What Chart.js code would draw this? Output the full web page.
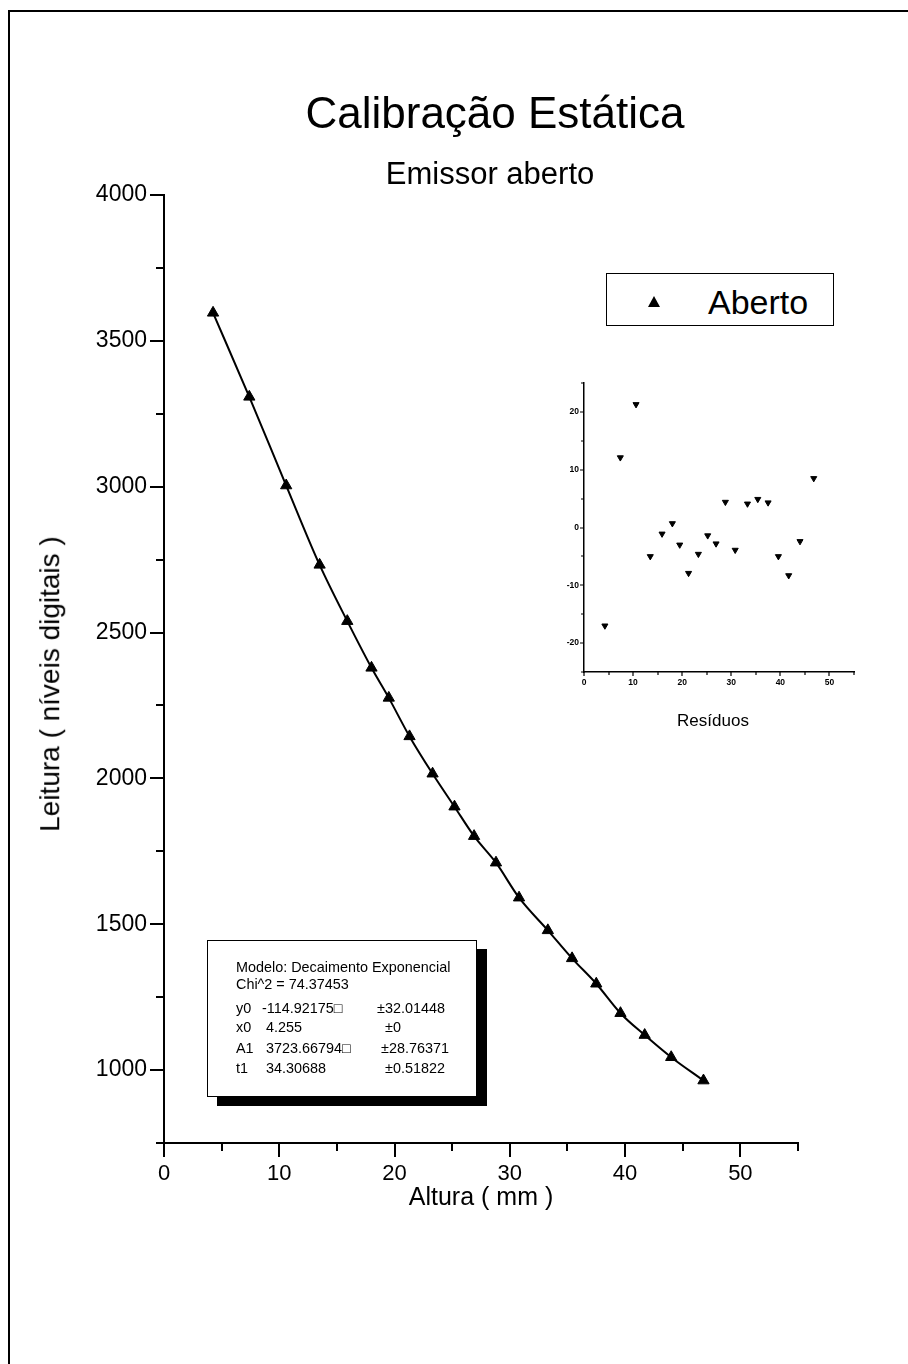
<!DOCTYPE html>
<html>
<head>
<meta charset="utf-8">
<script src="https://cdn.jsdelivr.net/npm/chart.js@4"></script>
<style>
  html, body { margin: 0; padding: 0; background: #fff; }
  body { width: 908px; height: 1364px; position: relative; overflow: hidden;
         font-family: "Liberation Sans", Arial, sans-serif; color: #000; }
  .abs { position: absolute; white-space: pre; line-height: 1; }
  #frame { position: absolute; left: 8px; top: 10px; right: -4px; bottom: -4px;
           border-top: 2px solid #000; border-left: 2px solid #000; }
  #main { position: absolute; left: 0; top: 0; }
  #inset { position: absolute; left: 530px; top: 360px; }
  #legend { position: absolute; left: 606px; top: 273px; width: 226px; height: 51px;
            border: 1.5px solid #000; background: #fff; }
  #legend .tri { position: absolute; left: 41px; top: 22px; width: 0; height: 0;
                 border-left: 6px solid transparent; border-right: 6px solid transparent;
                 border-bottom: 11px solid #000; }
  #fitbox { position: absolute; left: 207px; top: 940px; width: 268px; height: 155px;
            border: 1.5px solid #000; background: #fff; box-shadow: 10px 9px 0 #000; }
  #ytitle { left: 50px; top: 684px; font-size: 28px; line-height: 1.2;
            transform: translate(-50%, -50%) rotate(-90deg); }
</style>
</head>
<body>
<div id="frame"></div>
<canvas id="main" width="908" height="1364"></canvas>
<canvas id="inset" width="340" height="340"></canvas>

<div class="abs" style="left:495px; top:91px; font-size:44px; transform:translateX(-50%);">Calibração Estática</div>
<div class="abs" style="left:490px; top:158px; font-size:31px; transform:translateX(-50%);">Emissor aberto</div>
<div class="abs" id="ytitle">Leitura ( níveis digitais )</div>

<div id="legend"><div class="tri"></div><div class="abs" style="left:101px; top:11px; font-size:34px;">Aberto</div></div>

<div class="abs" style="left:713px; top:712px; font-size:17px; transform:translateX(-50%);">Resíduos</div>

<div id="fitbox"></div>

<script>
// data
const alturas = [4.255, 7.4, 10.6, 13.5, 15.9, 18.0, 19.5, 21.3, 23.3, 25.2,
                 26.9, 28.8, 30.8, 33.3, 35.4, 37.5, 39.6, 41.7, 44.0, 46.8];
const leituras = [3596, 3308, 3004, 2732, 2539, 2379, 2276, 2144, 2016, 1903,
                  1802, 1711, 1591, 1479, 1383, 1296, 1195, 1120, 1044, 964];
const residuos = [-17, 12.1, 21.3, -5, -1.1, 0.7, -3, -7.9, -4.6, -1.4,
                  -2.8, 4.4, -3.9, 4.1, 4.9, 4.3, -5, -8.3, -2.4, 8.5];

// fit report lines
const fitTitle = ["Modelo: Decaimento Exponencial", "Chi^2 = 74.37453"];
const fitNames = ["y0", "x0", "A1", "t1"];
const fitValues = ["-114.92175\u25A1", " 4.255", " 3723.66794\u25A1", " 34.30688"];
const fitErrors = ["±32.01448", "  ±0", " ±28.76371", "  ±0.51822"];

const FONT = '"Liberation Sans", Arial, sans-serif';

// fill the fit box
const box = document.getElementById("fitbox");
const rowTops = [19, 36, 60, 79, 100, 120];
fitTitle.forEach((t, i) => {
  const d = document.createElement("div");
  d.className = "abs"; d.style.cssText = `left:28px; top:${rowTops[i]}px; font-size:14.4px;`;
  d.textContent = t; box.appendChild(d);
});
fitNames.forEach((n, i) => {
  const top = rowTops[i + 2];
  [[28, n], [54, fitValues[i]], [169, fitErrors[i]]].forEach(([left, txt]) => {
    const d = document.createElement("div");
    d.className = "abs"; d.style.cssText = `left:${left}px; top:${top}px; font-size:14.4px;`;
    d.textContent = txt; box.appendChild(d);
  });
});

// outward tick marks, long on labelled values, short on the rest
const outerTicks = {
  id: "outerTicks",
  afterDraw(chart, args, opts) {
    const ctx = chart.ctx;
    const x = chart.scales.x, y = chart.scales.y;
    ctx.save();
    ctx.strokeStyle = "#000";
    ctx.lineWidth = opts.width;
    ctx.beginPath();
    x.ticks.forEach(t => {
      const px = Math.round(x.getPixelForValue(t.value));
      const len = t.value % opts.xMajor === 0 ? opts.major : opts.minor;
      ctx.moveTo(px, x.top); ctx.lineTo(px, x.top + len);
    });
    y.ticks.forEach(t => {
      const py = Math.round(y.getPixelForValue(t.value));
      const len = t.value % opts.yMajor === 0 ? opts.major : opts.minor;
      ctx.moveTo(y.right, py); ctx.lineTo(y.right - len, py);
    });
    ctx.stroke();
    ctx.restore();
  }
};

Chart.defaults.font.family = FONT;
Chart.defaults.color = "#000";

new Chart(document.getElementById("main"), {
  type: "scatter",
  data: {
    datasets: [{
      label: "Aberto",
      data: alturas.map((a, i) => ({ x: a, y: leituras[i] })),
      showLine: true,
      borderColor: "#000",
      borderWidth: 2,
      tension: 0.4,
      cubicInterpolationMode: "monotone",
      pointStyle: "triangle",
      pointRadius: 6.5,
      pointBackgroundColor: "#000",
      pointBorderColor: "#000",
      pointBorderWidth: 1
    }]
  },
  options: {
    responsive: false,
    animation: false,
    events: [],
    layout: { padding: { left: 0, top: 195, right: 110, bottom: 151 } },
    plugins: {
      legend: { display: false },
      tooltip: { enabled: false },
      outerTicks: { width: 2, major: 14, minor: 8, xMajor: 10, yMajor: 500 }
    },
    scales: {
      x: {
        type: "linear", min: 0, max: 55,
        grid: { display: false, drawTicks: false },
        border: { display: true, color: "#000", width: 2 },
        ticks: { stepSize: 5, padding: 18, font: { size: 22 }, maxRotation: 0, autoSkip: false,
                 callback: v => v % 10 === 0 ? v : "" },
        title: { display: true, text: "Altura ( mm )", font: { size: 25 }, padding: { top: 0, bottom: 0 } },
        afterFit: s => { s.height = 70; }
      },
      y: {
        type: "linear", min: 750, max: 4000,
        grid: { display: false, drawTicks: false },
        border: { display: true, color: "#000", width: 2 },
        ticks: { stepSize: 250, padding: 17, font: { size: 23 }, autoSkip: false,
                 callback: v => v % 500 === 0 ? v : "" },
        afterFit: s => { s.width = 164; }
      }
    }
  },
  plugins: [outerTicks]
});

new Chart(document.getElementById("inset"), {
  type: "scatter",
  data: {
    datasets: [{
      label: "Resíduos",
      data: alturas.map((a, i) => ({ x: a, y: residuos[i] })),
      pointStyle: "triangle",
      rotation: 180,
      pointRadius: 3.5,
      pointBackgroundColor: "#000",
      pointBorderColor: "#000",
      pointBorderWidth: 1
    }]
  },
  options: {
    responsive: false,
    animation: false,
    events: [],
    layout: { padding: { left: 24, top: 23, right: 16, bottom: 8 } },
    plugins: {
      legend: { display: false },
      tooltip: { enabled: false },
      outerTicks: { width: 1.2, major: 4, minor: 3, xMajor: 10, yMajor: 10 }
    },
    scales: {
      x: {
        type: "linear", min: 0, max: 55,
        grid: { display: false, drawTicks: false },
        border: { display: true, color: "#000", width: 1.5 },
        ticks: { stepSize: 5, padding: 6, font: { size: 8.5, weight: "bold" }, maxRotation: 0, autoSkip: false,
                 callback: v => v % 10 === 0 ? v : "" },
        afterFit: s => { s.height = 20; }
      },
      y: {
        type: "linear", min: -25, max: 25,
        grid: { display: false, drawTicks: false },
        border: { display: true, color: "#000", width: 1.5 },
        ticks: { stepSize: 5, padding: 5, font: { size: 8.5, weight: "bold" }, autoSkip: false,
                 callback: v => v % 10 === 0 ? v : "" },
        afterFit: s => { s.width = 30; }
      }
    }
  },
  plugins: [outerTicks]
});
</script>
</body>
</html>
